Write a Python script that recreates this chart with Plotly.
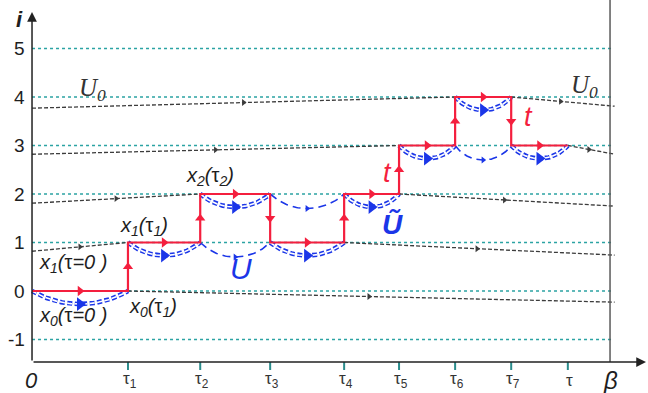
import numpy as np
import plotly.graph_objects as go

# ---------------------------------------------------------------------------
# Data: a world-line in imaginary time, hopping between levels i
# ---------------------------------------------------------------------------
# vertex times (tau_0 = 0, last entry = current time tau)
tau_vertices = [0.0, 1.66, 2.91, 4.12, 5.40, 6.35, 7.32, 8.29, 9.27]
# occupied level on each interval [tau_k, tau_{k+1}]
path_levels = [0, 1, 2, 1, 2, 3, 4, 3]
beta = 10.0
level_ticks = [-1, 0, 1, 2, 3, 4, 5]
tau_tick_labels = ["τ<sub>1</sub>", "τ<sub>2</sub>", "τ<sub>3</sub>", "τ<sub>4</sub>",
                   "τ<sub>5</sub>", "τ<sub>6</sub>", "τ<sub>7</sub>", "τ"]

# free U0 evolution: levels entered later start at tau = 0 from these values
u0_in_levels = [1, 2, 3, 4]
u0_in_start = [0.82, 1.81, 2.82, 3.77]
# levels left for good drift to these values at beta
u0_out_levels = [0, 1, 2, 3, 4]
u0_out_end = [-0.23, 0.74, 1.75, 2.82, 3.81]

# ---------------------------------------------------------------------------
# Frame
# ---------------------------------------------------------------------------
W, H = 648, 393
X_MIN, X_MAX = -0.554, 10.657
Y_MIN, Y_MAX = -2.103, 6.0
KX = W / (X_MAX - X_MIN)
KY = H / (Y_MAX - Y_MIN)


def px_x(p):
    return X_MIN + p / KX


def px_y(p):
    return Y_MAX - p / KY


AX_Y = px_y(362)
X_END = px_x(612)

RED = "#f41f3e"
BLUE = "#1b36e8"
TEAL = "#2ba3a3"
DARK = "#3c3c3c"
AXIS = "#5a5a5a"

fig = go.Figure()


def line(xs, ys, color, width, dash="solid"):
    fig.add_trace(go.Scatter(x=list(xs), y=list(ys), mode="lines",
                             line=dict(color=color, width=width, dash=dash),
                             hoverinfo="skip"))


def arrows(xs, ys, symbol, color, size):
    fig.add_trace(go.Scatter(x=list(xs), y=list(ys), mode="markers",
                             marker=dict(symbol=symbol, color=color, size=size,
                                         line=dict(width=0)),
                             hoverinfo="skip"))


def arc(a, b, level, sag, n=60):
    """Circular arc hanging below the chord (a, level)-(b, level)."""
    xs = np.linspace(a, b, n)
    hx = (b - a) / 2 * KX
    s = sag * KY
    r = (hx ** 2 + s ** 2) / (2 * s)
    dx = (xs - (a + b) / 2) * KX
    dy = np.sqrt(np.clip(r ** 2 - dx ** 2, 0, None)) - (r - s)
    return xs, level - dy / KY


# level grid
for lv in level_ticks:
    line([0, X_END], [lv, lv], TEAL, 1.3, "dot")

# tick marks on the time axis
for t in tau_vertices[1:]:
    line([t, t], [AX_Y, px_y(370)], "#2b8c8c", 2)

# ---------------------------------------------------------------------------
# U0 trajectories (black dashed)
# ---------------------------------------------------------------------------
n_int = len(path_levels)
first_time = {}
last_time = {}
for k, lv in enumerate(path_levels):
    first_time.setdefault(lv, tau_vertices[k])
    last_time[lv] = tau_vertices[k + 1]

mid_x, mid_y = [], []
for lv, y0 in zip(u0_in_levels, u0_in_start):
    t1 = first_time[lv]
    line([0, t1], [y0, lv], DARK, 1.3, "4px,2px")
    mid_x.append(t1 / 2)
    mid_y.append((y0 + lv) / 2)
for lv, y1 in zip(u0_out_levels, u0_out_end):
    t0 = last_time[lv]
    x1 = beta + 0.08
    line([t0, x1], [lv, y1], DARK, 1.3, "4px,2px")
    xm = (t0 + beta) / 2
    mid_x.append(xm)
    mid_y.append(lv + (y1 - lv) * (xm - t0) / (x1 - t0))
arrows(mid_x, mid_y, "triangle-right", DARK, 6)

# ---------------------------------------------------------------------------
# Dressed propagators: double dashed arcs below every interval
# ---------------------------------------------------------------------------
dbl_x, dbl_y = [], []
for k, lv in enumerate(path_levels):
    a, b = tau_vertices[k], tau_vertices[k + 1]
    xs, ys = arc(a, b, lv, 0.27)
    line(xs, ys, BLUE, 4.6, "5px,2.5px")
    line(xs, ys, "white", 1.6, "5px,2.5px")
    dbl_x.append((a + b) / 2)
    dbl_y.append(lv - 0.27)
arrows(dbl_x, dbl_y, "triangle-right", BLUE, 12)

# single dashed arcs on the level left during an excursion
sgl_x, sgl_y = [], []
for k in range(1, n_int - 1):
    if path_levels[k - 1] == path_levels[k + 1]:
        lv = path_levels[k - 1]
        a, b = tau_vertices[k], tau_vertices[k + 1]
        xs, ys = arc(a, b, lv, 0.3)
        line(xs, ys, BLUE, 1.6, "8px,5px")
        sgl_x.append((a + b) / 2)
        sgl_y.append(lv - 0.3)
arrows(sgl_x, sgl_y, "triangle-right", BLUE, 6)

# ---------------------------------------------------------------------------
# The path itself (red)
# ---------------------------------------------------------------------------
px, py = [], []
for k, lv in enumerate(path_levels):
    px += [tau_vertices[k], tau_vertices[k + 1]]
    py += [lv, lv]
line(px, py, RED, 2.2)

hx = [(tau_vertices[k] + tau_vertices[k + 1]) / 2 for k in range(n_int)]
arrows(hx, path_levels, "triangle-right", RED, 9)
up_x, up_y, dn_x, dn_y = [], [], [], []
for k in range(1, n_int):
    y0, y1 = path_levels[k - 1], path_levels[k]
    if y1 > y0:
        up_x.append(tau_vertices[k]); up_y.append((y0 + y1) / 2)
    else:
        dn_x.append(tau_vertices[k]); dn_y.append((y0 + y1) / 2)
arrows(up_x, up_y, "triangle-up", RED, 9)
arrows(dn_x, dn_y, "triangle-down", RED, 9)

# ---------------------------------------------------------------------------
# Axes
# ---------------------------------------------------------------------------
ann = []


def axis_arrow(x0, y0, x1, y1):
    ann.append(dict(x=x1, y=y1, ax=x0, ay=y0, xref="x", yref="y", axref="x", ayref="y",
                    text="", showarrow=True, arrowhead=2, arrowsize=1.3,
                    arrowwidth=1.5, arrowcolor="#222", standoff=0, startstandoff=0))


axis_arrow(0, AX_Y, px_x(646), AX_Y)
axis_arrow(0, AX_Y, 0, px_y(12))
line([beta, beta], [AX_Y, Y_MAX], AXIS, 1.5)

SANS = "Liberation Sans, Arial, sans-serif"
SERIF = "Liberation Serif, Times New Roman, serif"


def label(x, y, text, size, color="#1e1e1e", family=SANS, xanchor="center"):
    ann.append(dict(x=x, y=y, xref="x", yref="y", text=text, showarrow=False,
                    xanchor=xanchor, yanchor="middle",
                    font=dict(family=family, size=size, color=color)))


for lv in level_ticks:
    label(px_x(27), lv, str(lv), 19, xanchor="right")
label(px_x(19), px_y(19), "<b><i>i</i></b>", 22)

label(px_x(31), px_y(380), "<i>0</i>", 22)
for t, txt in zip(tau_vertices[1:], tau_tick_labels):
    label(t + px_x(2) - px_x(0), px_y(380), txt, 17, color="#333")
label(px_x(610), px_y(380), "<i>β</i>", 24)

# ---------------------------------------------------------------------------
# Annotations on the diagram
# ---------------------------------------------------------------------------
u0 = "<i>U</i><sub><i>0</i></sub>"
label(px_x(92), px_y(89), u0, 25, color="#333", family=SERIF)
label(px_x(584), px_y(86), u0, 25, color="#333", family=SERIF)

label(px_x(210), px_y(176), "<i>x</i><sub><i>2</i></sub><i>(</i>τ<sub><i>2</i></sub><i>)</i>", 20)
label(px_x(144), px_y(226), "<i>x</i><sub><i>1</i></sub><i>(</i>τ<sub><i>1</i></sub><i>)</i>", 20)
label(px_x(73), px_y(263), "<i>x</i><sub><i>1</i></sub><i>(</i>τ<i>=0 )</i>", 20)
label(px_x(73), px_y(316), "<i>x</i><sub><i>0</i></sub><i>(</i>τ<i>=0 )</i>", 20)
label(px_x(153), px_y(307), "<i>x</i><sub><i>0</i></sub><i>(</i>τ<sub><i>1</i></sub><i>)</i>", 20)

label(px_x(241), px_y(268), "<i>U</i>", 30, color=BLUE)
label(px_x(392), px_y(224), "<b><i>Ũ</i></b>", 28, color=BLUE)
label(px_x(387), px_y(173), "<i>t</i>", 27, color=RED)
label(px_x(528), px_y(117), "<i>t</i>", 27, color=RED)

fig.update_layout(
    width=W, height=H,
    margin=dict(l=0, r=0, t=0, b=0),
    paper_bgcolor="white", plot_bgcolor="white",
    showlegend=False,
    xaxis=dict(range=[X_MIN, X_MAX], visible=False, fixedrange=True),
    yaxis=dict(range=[Y_MIN, Y_MAX], visible=False, fixedrange=True),
    annotations=ann,
)

fig.write_html("out.html")
